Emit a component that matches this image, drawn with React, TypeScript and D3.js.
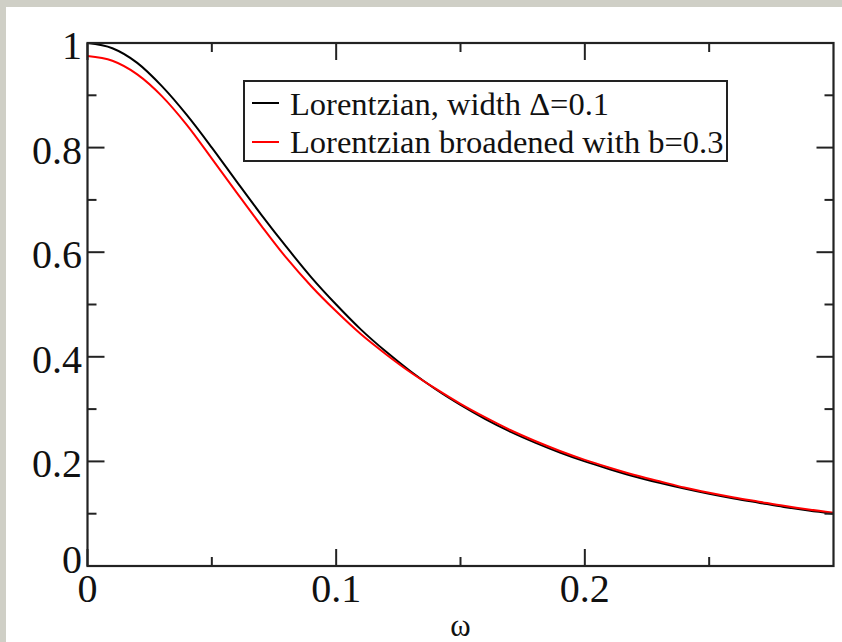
import React from "react";
import * as d3 from "d3";

const omega = [0, 0.01, 0.02, 0.03, 0.04, 0.05, 0.06, 0.07, 0.08, 0.09, 0.1, 0.11, 0.12, 0.13, 0.14, 0.15, 0.16, 0.17, 0.18, 0.19, 0.2, 0.21, 0.22, 0.23, 0.24, 0.25, 0.26, 0.27, 0.28, 0.29, 0.3];
const lorentzian = [1.0, 0.99, 0.962, 0.917, 0.862, 0.8, 0.735, 0.671, 0.61, 0.552, 0.5, 0.452, 0.41, 0.372, 0.338, 0.308, 0.281, 0.257, 0.236, 0.217, 0.2, 0.185, 0.171, 0.159, 0.148, 0.138, 0.129, 0.121, 0.113, 0.106, 0.1];
const broadened = [0.975, 0.966, 0.94, 0.898, 0.843, 0.779, 0.714, 0.65, 0.589, 0.535, 0.487, 0.443, 0.405, 0.37, 0.339, 0.31, 0.284, 0.26, 0.239, 0.22, 0.203, 0.188, 0.174, 0.162, 0.15, 0.14, 0.131, 0.123, 0.115, 0.108, 0.102];

const xMajor = [0, 0.1, 0.2];
const xMinor = [0.05, 0.15, 0.25];
const xTickLabels = ["0", "0.1", "0.2"];
const yMajor = [0, 0.2, 0.4, 0.6, 0.8, 1];
const yMinor = [0.1, 0.3, 0.5, 0.7, 0.9];
const yTickLabels = ["0", "0.2", "0.4", "0.6", "0.8", "1"];
const seriesNames = ["Lorentzian, width \u0394=0.1", "Lorentzian broadened with b=0.3"];
const seriesColors = ["#000000", "#ff0000"];

export default function App() {
  const W = 842, H = 642;
  const L = 87.5, R = 833.5, T = 43, B = 566;
  const x = d3.scaleLinear().domain([0, 0.3]).range([L, R]);
  const y = d3.scaleLinear().domain([0, 1]).range([B, T]);
  const series = [lorentzian, broadened];
  const line = d3
    .line<number>()
    .x((_, i) => x(omega[i]))
    .y((d) => y(d))
    .curve(d3.curveMonotoneX);
  const font = "'Liberation Serif', 'Times New Roman', serif";
  const axisColor = "#222";
  const major = 17, minor = 9;

  return (
    <svg width={W} height={H} style={{ position: "fixed", left: 0, top: 0, display: "block" }} xmlns="http://www.w3.org/2000/svg">
      <rect x={0} y={0} width={W} height={H} fill="#cfcfc6" />
      <rect x={6} y={7} width={W - 6} height={H - 7} fill="#ffffff" />
      <g clipPath="url(#plotclip)">
        <clipPath id="plotclip">
          <rect x={L} y={T - 2} width={R - L} height={B - T + 2} />
        </clipPath>
        {series.map((s, k) => (
          <path key={k} d={line(s) || ""} fill="none" stroke={seriesColors[k]} strokeWidth={2} />
        ))}
      </g>
      <g stroke={axisColor} strokeWidth={2}>
        {xMajor.map((v) => (
          <g key={"xM" + v}>
            <line x1={x(v)} x2={x(v)} y1={B} y2={B - major} />
            <line x1={x(v)} x2={x(v)} y1={T} y2={T + major} />
          </g>
        ))}
        {xMinor.map((v) => (
          <g key={"xm" + v}>
            <line x1={x(v)} x2={x(v)} y1={B} y2={B - minor} />
            <line x1={x(v)} x2={x(v)} y1={T} y2={T + minor} />
          </g>
        ))}
        {yMajor.map((v) => (
          <g key={"yM" + v}>
            <line x1={L} x2={L + major} y1={y(v)} y2={y(v)} />
            <line x1={R} x2={R - major} y1={y(v)} y2={y(v)} />
          </g>
        ))}
        {yMinor.map((v) => (
          <g key={"ym" + v}>
            <line x1={L} x2={L + minor} y1={y(v)} y2={y(v)} />
            <line x1={R} x2={R - minor} y1={y(v)} y2={y(v)} />
          </g>
        ))}
      </g>
      <rect x={L} y={T} width={R - L} height={B - T} fill="none" stroke={axisColor} strokeWidth={2.2} />
      <g fontFamily={font} fontSize={40} fill="#111">
        {xMajor.map((v, i) => (
          <text key={"xl" + v} x={x(v)} y={602} textAnchor="middle">
            {xTickLabels[i]}
          </text>
        ))}
        {yMajor.map((v, i) => (
          <text key={"yl" + v} x={82} y={y(v) + (v === 0 ? 7 : 16)} textAnchor="end">
            {yTickLabels[i]}
          </text>
        ))}
      </g>
      <text x={(L + R) / 2} y={636} textAnchor="middle" fontFamily={font} fontSize={31} fill="#111">
        ω
      </text>
      <rect x={244} y={81} width={483} height={80} fill="#fff" stroke={axisColor} strokeWidth={2} />
      {seriesNames.map((name, k) => (
        <g key={name}>
          <line x1={252} x2={279} y1={103 + k * 39} y2={103 + k * 39} stroke={seriesColors[k]} strokeWidth={2} />
          <text x={290} y={115 + k * 38} fontFamily={font} fontSize={32.5} fill="#111">
            {name}
          </text>
        </g>
      ))}
    </svg>
  );
}
